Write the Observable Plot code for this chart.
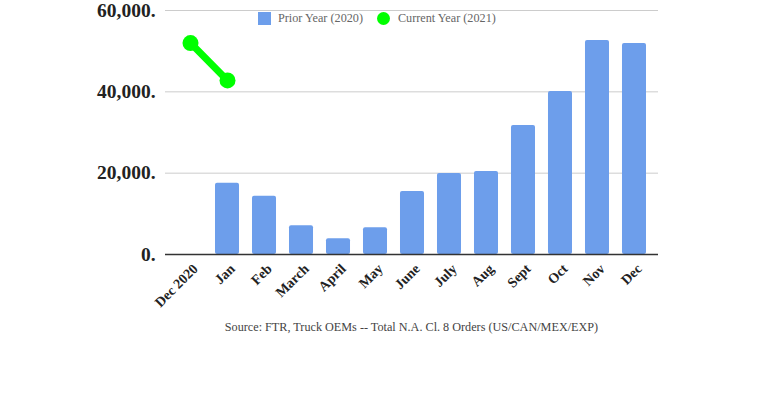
<!DOCTYPE html>
<html>
<head>
<meta charset="utf-8">
<script src="https://cdn.jsdelivr.net/npm/d3@7"></script>
<script src="https://cdn.jsdelivr.net/npm/@observablehq/plot@0.6"></script>
<style>
  body { margin: 0; background: #fff; font-family: "Liberation Serif", serif; }
  #wrap { position: relative; width: 770px; height: 400px; }
  #legend { position: absolute; top: 11px; left: 258px; font-size: 12.2px; color: #666; display: flex; align-items: center; white-space: nowrap; }
  #legend .sq { display: inline-block; width: 13px; height: 13px; background: #6d9eeb; margin-right: 7px; }
  #legend .ci { display: inline-block; width: 13px; height: 13px; border-radius: 50%; background: #00ff00; margin-left: 14px; margin-right: 8px; }
  #caption { position: absolute; top: 320px; left: 165px; width: 493px; text-align: center; font-size: 12.2px; color: #444; }
</style>
</head>
<body>
<div id="wrap">
  <div id="chart"></div>
  <div id="legend"><span class="sq"></span><span>Prior Year (2020)</span><span class="ci"></span><span>Current Year (2021)</span></div>
  <div id="caption">Source: FTR, Truck OEMs -- Total N.A. Cl. 8 Orders (US/CAN/MEX/EXP)</div>
</div>
<script>
const categories = ["Dec 2020", "Jan", "Feb", "March", "April", "May", "June", "July", "Aug", "Sept", "Oct", "Nov", "Dec"];
const priorYear = [null, 17500, 14300, 7100, 3900, 6600, 15500, 19900, 20400, 31700, 40100, 52600, 51900];
const currentYear = [52000, 42800, null, null, null, null, null, null, null, null, null, null, null];
const yTicks = [0, 20000, 40000, 60000];

const barData = categories.map((c, i) => ({cat: c, v: priorYear[i]})).filter(d => d.v != null);
const lineData = categories.map((c, i) => ({cat: c, v: currentYear[i]})).filter(d => d.v != null);

const chart = Plot.plot({
  width: 770,
  height: 400,
  marginLeft: 165,
  marginRight: 112,
  marginTop: 10,
  marginBottom: 146,
  style: {fontFamily: "Liberation Serif, serif", background: "#fff"},
  x: {domain: categories, range: [178, 646], paddingInner: 0.351, paddingOuter: 0, round: false, label: null},
  y: {domain: [0, 60000], label: null},
  marks: [
    Plot.gridY(yTicks, {stroke: "#cccccc", strokeOpacity: 1, strokeWidth: 1}),
    Plot.barY(barData, {x: "cat", y: "v", fill: "#6d9eeb", rx: 2}),
    Plot.ruleY([0], {stroke: "#333", strokeWidth: 1.5}),
    Plot.line(lineData, {x: "cat", y: "v", stroke: "#00ff00", strokeWidth: 7}),
    Plot.dot(lineData, {x: "cat", y: "v", fill: "#00ff00", r: 8}),
    Plot.axisY(yTicks, {tickFormat: d => d3.format(",")(d) + ".", tickSize: 0, tickPadding: 10, fontSize: 19.5, fontWeight: "bold", fill: "#222", label: null}),
    Plot.axisX({tickRotate: -45, tickSize: 0, tickPadding: 11, dx: 5, dy: 1, fontSize: 14, fontWeight: "bold", fill: "#222", label: null})
  ]
});
document.getElementById("chart").appendChild(chart);
</script>
</body>
</html>
